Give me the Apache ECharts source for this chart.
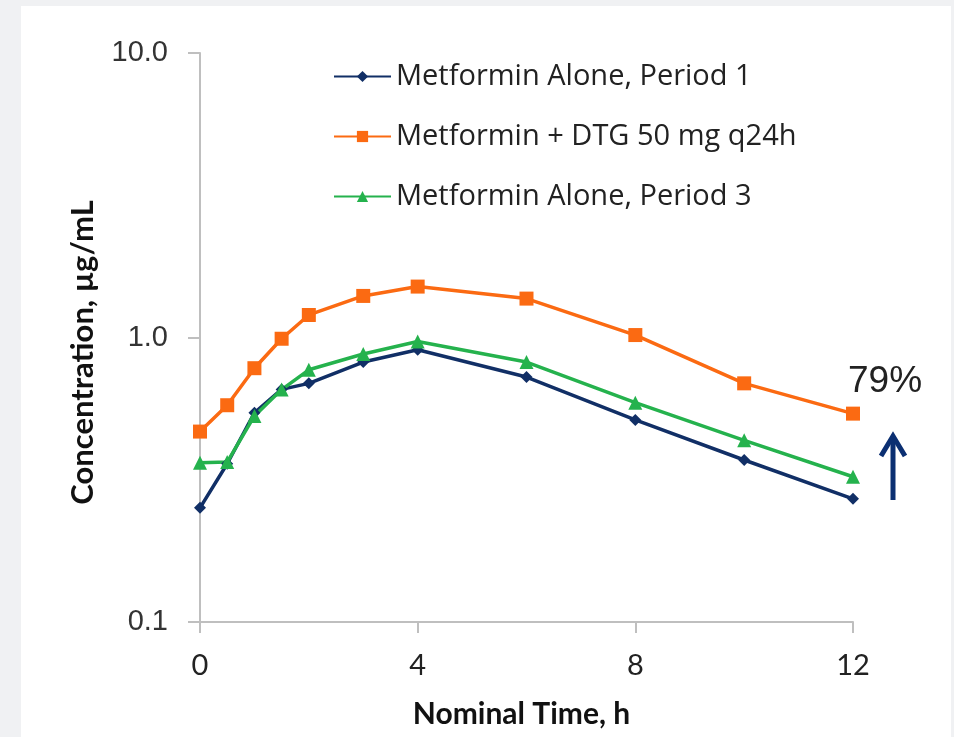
<!DOCTYPE html>
<html><head><meta charset="utf-8">
<script src="https://cdn.jsdelivr.net/npm/echarts@6/dist/echarts.min.js"></script>
<style>html,body{margin:0;padding:0;background:#f0f1f3;}#c{width:954px;height:737px;}</style>
</head><body><div id="c"></div>
<script>
const times = [0, 0.5, 1, 1.5, 2, 3, 4, 6, 8, 10, 12];
const period1 = [0.252, 0.36, 0.544, 0.657, 0.69, 0.82, 0.906, 0.726, 0.513, 0.371, 0.271];
const withDTG = [0.467, 0.578, 0.78, 0.99, 1.20, 1.40, 1.51, 1.37, 1.02, 0.69, 0.54];
const period3 = [0.363, 0.365, 0.53, 0.656, 0.77, 0.875, 0.968, 0.82, 0.59, 0.435, 0.324];
const seriesNames = ['Metformin Alone, Period 1', 'Metformin + DTG 50 mg q24h', 'Metformin Alone, Period 3'];
const xTicks = [0, 4, 8, 12];
const yTicks = [0.1, 1, 10];
const annotation = '79%';

const pairs = arr => times.map((t, i) => [t, arr[i]]);
const chart = echarts.init(document.getElementById('c'));
chart.setOption({
  animation: false,
  backgroundColor: '#f0f1f3',
  graphic: [
    { type: 'rect', z: -10, shape: { x: 21, y: 6, width: 930, height: 731 }, style: { fill: '#ffffff' } },
    { type: 'text', x: 848, y: 382, style: { text: annotation, font: '37px "Liberation Sans"', fill: '#222222', verticalAlign: 'middle', align: 'left' } },
    { type: 'line', shape: { x1: 893, y1: 500, x2: 893, y2: 438 }, style: { stroke: '#0b2f72', lineWidth: 5 } },
    { type: 'polyline', shape: { points: [[881, 456], [893, 436], [905, 456]] }, style: { stroke: '#0b2f72', lineWidth: 5, fill: null, lineJoin: 'miter' } }
  ],
  grid: { left: 200, right: 101, top: 53, bottom: 115, containLabel: false },
  legend: {
    orient: 'vertical', left: 328, top: 57, itemGap: 31, itemWidth: 57, itemHeight: 14,
    textStyle: { fontFamily: 'Open Sans', fontSize: 29, color: '#222222' },
    data: seriesNames
  },
  xAxis: {
    type: 'value', min: 0, max: 12, interval: 4,
    name: 'Nominal Time, h', nameLocation: 'middle', nameGap: 77,
    nameTextStyle: { fontFamily: 'Lato', fontWeight: 'bold', fontSize: 30, color: '#111111', padding: [0, 10, 0, 0] },
    axisLine: { lineStyle: { color: '#bfbfbf', width: 2 } },
    axisTick: { show: true, length: 11, lineStyle: { color: '#bfbfbf', width: 2 } },
    axisLabel: { fontFamily: 'Lato', fontSize: 29, color: '#222222', margin: 29,
      formatter: v => xTicks.includes(v) ? String(v) : '' },
    splitLine: { show: false }
  },
  yAxis: {
    type: 'log', logBase: 10, min: yTicks[0], max: yTicks[2],
    name: 'Concentration, µg/mL', nameLocation: 'middle', nameGap: 102, nameRotate: 90,
    nameTextStyle: { fontFamily: 'Lato', fontWeight: 'bold', fontSize: 31, color: '#111111', padding: [0, 30, 0, 0] },
    axisLine: { show: true, lineStyle: { color: '#bfbfbf', width: 2 } },
    axisTick: { show: true, length: 12, lineStyle: { color: '#bfbfbf', width: 2 } },
    axisLabel: { fontFamily: 'Liberation Sans', fontSize: 29, color: '#333333', margin: 32,
      formatter: v => Number(v).toFixed(1) },
    splitLine: { show: false }
  },
  series: [
    { name: seriesNames[0], type: 'line', data: pairs(period1), symbol: 'diamond', symbolSize: 12,
      itemStyle: { color: '#112f66' }, lineStyle: { color: '#112f66', width: 3.5 } },
    { name: seriesNames[1], type: 'line', data: pairs(withDTG), symbol: 'rect', symbolSize: 14,
      itemStyle: { color: '#fb6a12' }, lineStyle: { color: '#fb6a12', width: 3.5 } },
    { name: seriesNames[2], type: 'line', data: pairs(period3), symbol: 'triangle', symbolSize: 14,
      itemStyle: { color: '#25b24d' }, lineStyle: { color: '#25b24d', width: 3.5 } }
  ]
});
</script></body></html>
